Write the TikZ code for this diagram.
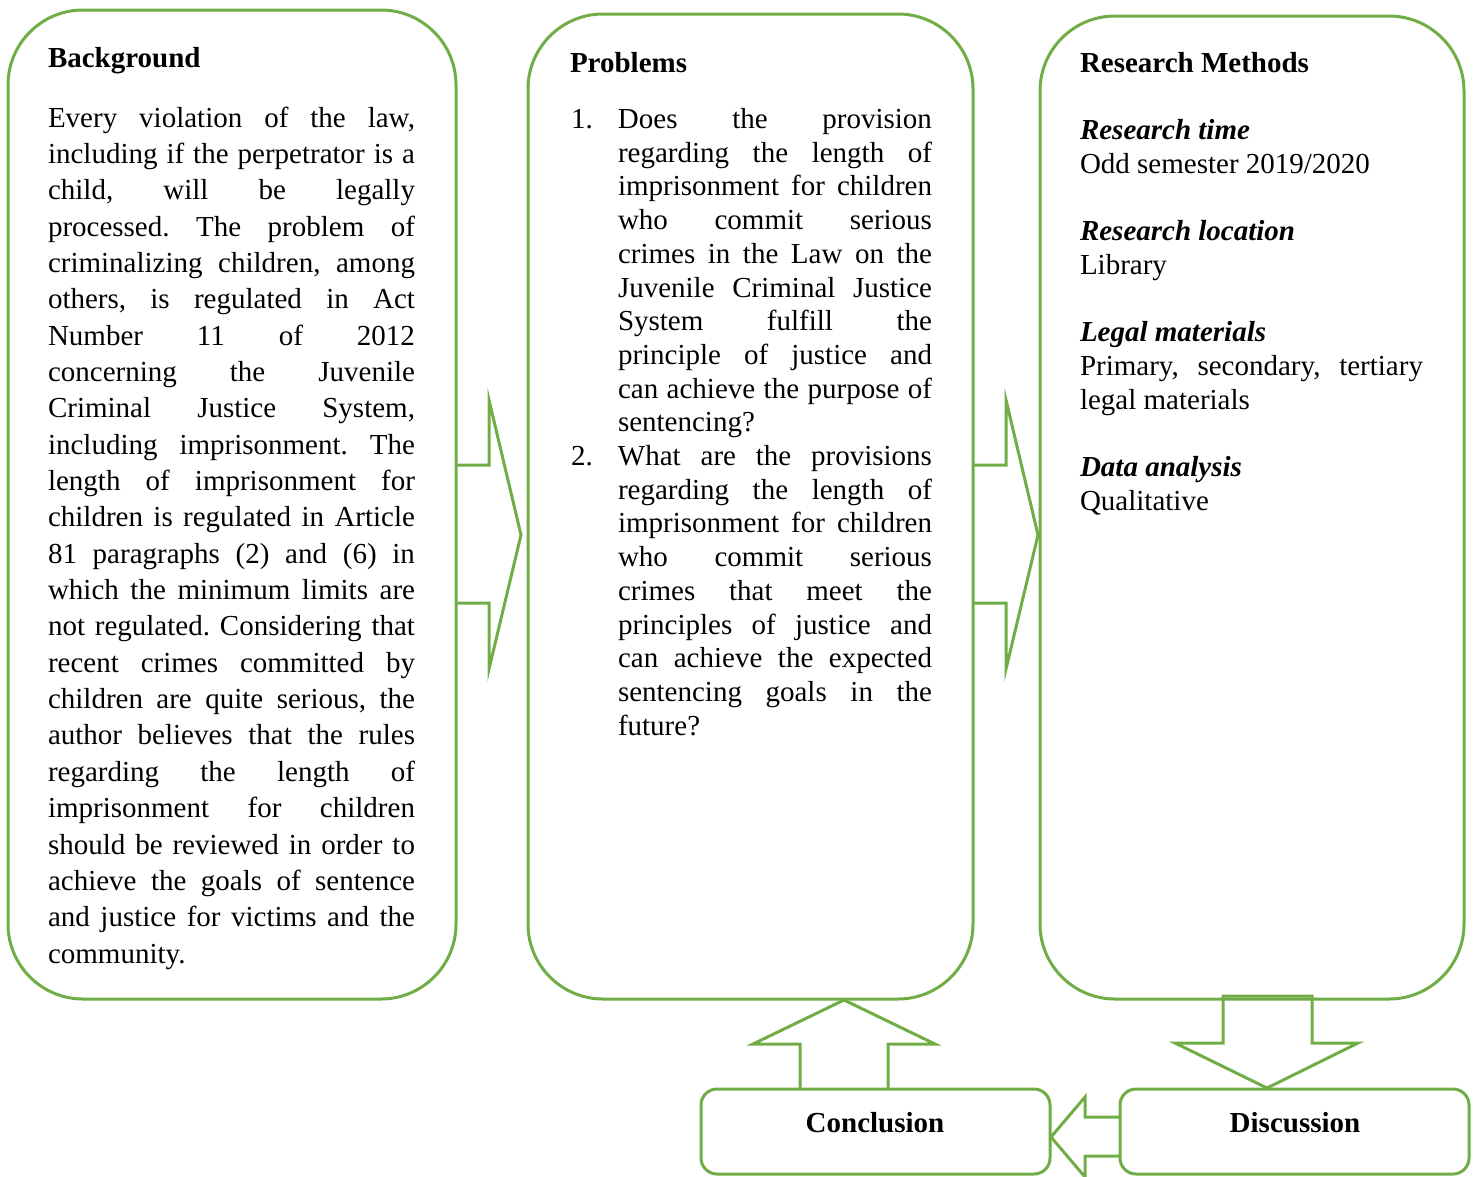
\documentclass[tikz,border=0pt]{standalone}
\usepackage{fontspec}
\setmainfont{Liberation Serif}
\frenchspacing
\definecolor{boxgreen}{HTML}{70AD47}
\tikzset{
  bigbox/.style={draw=boxgreen, line width=3pt, rounded corners=75pt, inner sep=0pt, outer sep=0pt},
  smallbox/.style={draw=boxgreen, line width=3pt, rounded corners=16pt, inner sep=0pt, outer sep=0pt},
  blockarrow/.style={draw=boxgreen, line width=3pt, line join=miter},
  txt/.style={inner sep=0pt, outer sep=0pt, anchor=base west, align=justify},
  title/.style={inner sep=0pt, outer sep=0pt, anchor=base west, font=\fontsize{29}{33.7}\selectfont\bfseries},
  label/.style={inner sep=0pt, outer sep=0pt, anchor=base, font=\fontsize{29}{33.7}\selectfont\bfseries}
}
\begin{document}
\begin{tikzpicture}[x=1pt,y=-1pt]
\useasboundingbox (0,0) rectangle (1475,1176);
\clip (0,0) rectangle (1475,1176);
% boxes
\node[bigbox, minimum width=448pt, minimum height=989pt] (bg) at (232,504.5) {};
\node[bigbox, minimum width=445pt, minimum height=985pt] (pr) at (750.5,506.5) {};
\node[bigbox, minimum width=424pt, minimum height=983pt] (rm) at (1252,507.5) {};
\node[smallbox, minimum width=349pt, minimum height=85pt] (co) at (875.5,1131.5) {};
\node[smallbox, minimum width=349pt, minimum height=85pt] (di) at (1294.5,1131.5) {};
% block arrows
\draw[blockarrow] (bg.east |- 0,465) -- (489,465) -- (489,400) -- (521,535) -- (489,669) -- (489,603) -- (bg.east |- 0,603);
\draw[blockarrow] (pr.east |- 0,465) -- (1006,465) -- (1006,400) -- (1038,535) -- (1006,669) -- (1006,603) -- (pr.east |- 0,603);
\draw[blockarrow] (800,0 |- co.north) -- (800,1044) -- (753,1044) -- (844,1000) -- (935,1044) -- (888,1044) -- (888,0 |- co.north);
\draw[blockarrow] (1223,996) -- (1312,996) -- (1312,1043) -- (1358,1043) -- (1267,1088) -- (1175,1043) -- (1223,1043) -- cycle;
\draw[blockarrow] (di.west |- 0,1117) -- (1085,1117) -- (1085,1097) -- (1051,1137) -- (1085,1177) -- (1085,1156) -- (di.west |- 0,1156);
% titles
\node[title] (bgt) at (48,67) {Background};
\node[title] (prt) at (570,72) {Problems};
% background text
\node[txt, text width=367pt, font=\fontsize{29}{36.35}\selectfont] (bgx) at (48,127) {%
\parindent=0pt
Every violation of the law,\linebreak
including if the perpetrator is a\linebreak
child, will be legally\linebreak
processed. The problem of\linebreak
criminalizing children, among\linebreak
others, is regulated in Act\linebreak
Number 11 of 2012\linebreak
concerning the Juvenile\linebreak
Criminal Justice System,\linebreak
including imprisonment. The\linebreak
length of imprisonment for\linebreak
children is regulated in Article\linebreak
81 paragraphs (2) and (6) in\linebreak
which the minimum limits are\linebreak
not regulated. Considering that\linebreak
recent crimes committed by\linebreak
children are quite serious, the\linebreak
author believes that the rules\linebreak
regarding the length of\linebreak
imprisonment for children\linebreak
should be reviewed in order to\linebreak
achieve the goals of sentence\linebreak
and justice for victims and the\linebreak
community.};
% problems text
\node[txt, text width=361pt, font=\fontsize{29}{33.7}\selectfont] (prx) at (571,128.5) {%
\parindent=0pt
\hangindent=47pt\hangafter=1\noindent\makebox[47pt][l]{1.}Does the provision\linebreak
regarding the length of\linebreak
imprisonment for children\linebreak
who commit serious\linebreak
crimes in the Law on the\linebreak
Juvenile Criminal Justice\linebreak
System fulfill the\linebreak
principle of justice and\linebreak
can achieve the purpose of\linebreak
sentencing?\par
\hangindent=47pt\hangafter=1\noindent\makebox[47pt][l]{2.}What are the provisions\linebreak
regarding the length of\linebreak
imprisonment for children\linebreak
who commit serious\linebreak
crimes that meet the\linebreak
principles of justice and\linebreak
can achieve the expected\linebreak
sentencing goals in the\linebreak
future?\par};
% research methods text
\node[txt, text width=343pt, font=\fontsize{29}{33.7}\selectfont] (rmx) at (1080,72) {%
\parindent=0pt\parskip=0pt
\textbf{Research Methods}\par
\mbox{}\par
\textbf{\textit{Research time}}\par
Odd semester 2019/2020\par
\mbox{}\par
\textbf{\textit{Research location}}\par
Library\par
\mbox{}\par
\textbf{\textit{Legal materials}}\par
Primary, secondary, tertiary\linebreak
legal materials\par
\mbox{}\par
\textbf{\textit{Data analysis}}\par
Qualitative\par};
% small box labels
\node[label] (col) at (875,1132) {Conclusion};
\node[label] (dil) at (1295,1132) {Discussion};
\end{tikzpicture}
\end{document}
